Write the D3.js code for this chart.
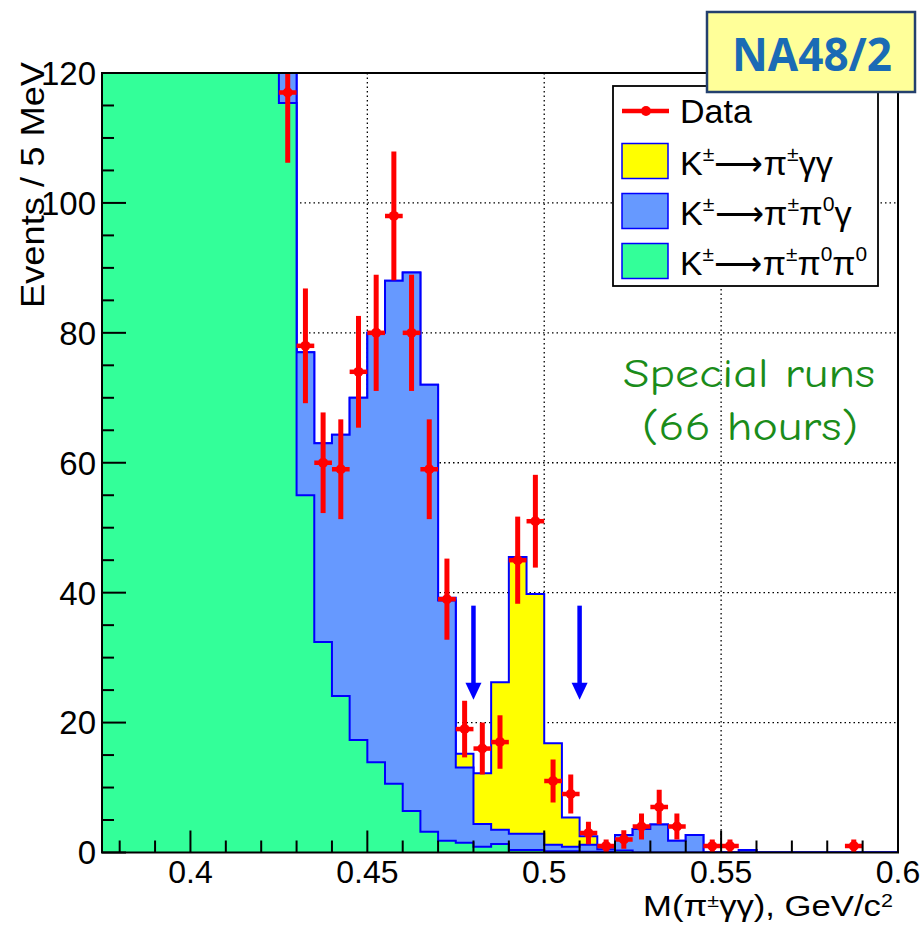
<!DOCTYPE html>
<html><head><meta charset="utf-8">
<script src="https://cdn.jsdelivr.net/npm/d3@7"></script>
<style>body{margin:0;background:#fff} svg{display:block}</style></head>
<body>
<svg id="c" width="921" height="925"></svg>
<script>
// ---- data ----
const binLow = [0.375,0.380,0.385,0.390,0.395,0.400,0.405,0.410,0.415,0.420,
  0.425,0.430,0.435,0.440,0.445,0.450,0.455,0.460,0.465,0.470,
  0.475,0.480,0.485,0.490,0.495,0.500,0.505,0.510,0.515,0.520,
  0.525,0.530,0.535,0.540,0.545,0.550,0.555,0.560,0.565,0.570,
  0.575,0.580,0.585,0.590,0.595];
const binWidth = 0.005;
// K -> pi pi0 pi0 (green)
const kpi0pi0 = [150,175,200,225,250,270,280,270,240,190,
  115.4,55,32.4,24.1,17.3,13.9,10.6,6.4,3.2,1.8,
  1.5,0.9,1.3,0.4,0.4,0.2,0.2,0.1,0.1,0.3,
  0,0,0,0,0,0,0,0,0,0,
  0,0,0,0,0];
// K -> pi pi0 gamma (blue)
const kpi0g = [2,2,3,3,4,5,6,7,9,11,
  12.6,22,30.6,40.2,52.7,66.1,77.4,82.9,68.8,37.0,
  11.6,3.5,2.2,2.5,2.5,1.0,0.7,1.1,0.4,2.4,
  3.6,4.3,1.8,2.7,0,0,0.4,0,0,0,
  0,0,0,0,0];
// K -> pi gamma gamma (yellow)
const kpigg = [0,0,0,0,0,0,0,0,0,0,
  0,0,0,0,0,0,0,0,0,0.4,
  2.1,7.8,22.7,42.6,36.9,15.6,4.5,1.3,0.5,0,
  0,0,0,0,0,0,0,0,0,0,
  0,0,0,0,0];
// Data (null = off scale)
const dataVals = [null,null,null,null,null,null,null,null,null,null,
  117,78,60,59,74,80,98,80,59,39,
  19,16,17,45,51,11,9,3,1,2,
  4,7,4,0,1,1,0,0,0,0,
  0,0,1,0,0];
const xTicks = [0.4,0.45,0.5,0.55,0.6];
const xTickLabels = ["0.4","0.45","0.5","0.55","0.6"];
const yTicks = [0,20,40,60,80,100,120];
const yTickLabels = ["0","20","40","60","80","100","120"];
const arrowX = [0.48,0.51];
const arrowY = [38,23.5];

// ---- setup ----
const svg = d3.select('#c');
const L=102,R=898,T=73,B=852.5;
const x = d3.scaleLinear().domain([0.375,0.6]).range([L,R]);
const y = d3.scaleLinear().domain([0,120]).range([B,T]);
const FONT = "'Liberation Sans', Arial, sans-serif";

svg.append('defs').append('clipPath').attr('id','pc')
  .append('rect').attr('x',L).attr('y',T).attr('width',R-L).attr('height',B-T);

const plot = svg.append('g').attr('clip-path','url(#pc)');

// grid
const grid = plot.append('g').attr('stroke','#000').attr('stroke-width',1.3).attr('stroke-dasharray','1.5,3');
[20,40,60,80,100].forEach(v=>grid.append('line').attr('x1',L).attr('x2',R).attr('y1',y(v)).attr('y2',y(v)));
[0.4,0.45,0.5,0.55].forEach(v=>grid.append('line').attr('y1',T).attr('y2',B).attr('x1',x(v)).attr('x2',x(v)));

// stacks
const n = binLow.length;
const cumG = kpi0pi0.slice();
const cumB = kpi0pi0.map((v,i)=>v+kpi0g[i]);
const cumT = cumB.map((v,i)=>v+kpigg[i]);
function pts(vals){
  const p = binLow.map((b,i)=>[b, vals[i]]);
  p.push([binLow[n-1]+binWidth, vals[n-1]]);
  return p;
}
const area = d3.area().x(d=>x(d[0])).y0(y(0)).y1(d=>y(d[1])).curve(d3.curveStepAfter);
const line = d3.line().x(d=>x(d[0])).y(d=>y(d[1])).curve(d3.curveStepAfter);
[[cumT,'#ffff00'],[cumB,'#6699ff'],[cumG,'#33ff99']].forEach(([vals,col])=>{
  const p = pts(vals);
  plot.append('path').attr('d',area(p)).attr('fill',col);
  plot.append('path').attr('d',line(p)).attr('fill','none').attr('stroke','#0000ff').attr('stroke-width',2);
});

// arrows
arrowX.forEach(ax=>{
  const g = plot.append('g');
  g.append('line').attr('x1',x(ax)).attr('x2',x(ax)).attr('y1',y(arrowY[0])).attr('y2',y(arrowY[1])-12)
    .attr('stroke','#0000ff').attr('stroke-width',4.5);
  const tx=x(ax), ty=y(arrowY[1]);
  g.append('path').attr('d',`M${tx-8},${ty-17}L${tx+8},${ty-17}L${tx},${ty}Z`).attr('fill','#0000ff');
});

// data points
const dg = plot.append('g');
binLow.forEach((b,i)=>{
  const v = dataVals[i];
  if(v===null || v<=0) return;
  const e = Math.sqrt(v);
  const cx = x(b+binWidth/2);
  dg.append('line').attr('x1',cx).attr('x2',cx).attr('y1',y(v-e)).attr('y2',y(v+e))
    .attr('stroke','#ff0000').attr('stroke-width',5);
  dg.append('line').attr('x1',x(b)).attr('x2',x(b+binWidth)).attr('y1',y(v)).attr('y2',y(v))
    .attr('stroke','#ff0000').attr('stroke-width',4.5);
  dg.append('circle').attr('cx',cx).attr('cy',y(v)).attr('r',5).attr('fill','#ff0000');
});

// frame
svg.append('rect').attr('x',L).attr('y',T).attr('width',R-L).attr('height',B-T)
  .attr('fill','none').attr('stroke','#000').attr('stroke-width',2);

// ticks
const ax = svg.append('g').attr('stroke','#000').attr('stroke-width',2);
for(let v=0; v<=120; v+=5){
  const major = (v%20===0);
  ax.append('line').attr('x1',L).attr('x2',L+(major?24:12)).attr('y1',y(v)).attr('y2',y(v));
}
for(let k=38; k<=60; k++){
  const v = k/100;
  const major = (k%5===0);
  ax.append('line').attr('x1',x(v)).attr('x2',x(v)).attr('y1',B).attr('y2',B-(major?22:12));
}
yTicks.forEach((v,i)=>svg.append('text').attr('x',96).attr('y',y(v)).attr('dy','0.36em')
  .attr('text-anchor','end').attr('font-family',FONT).attr('font-size',33).text(yTickLabels[i]));
xTicks.forEach((v,i)=>svg.append('text').attr('x',x(v)).attr('y',883)
  .attr('text-anchor','middle').attr('font-family',FONT).attr('font-size',32).text(xTickLabels[i]));

// axis titles
svg.append('text').attr('transform','translate(44,62) rotate(-90)').attr('text-anchor','end')
  .attr('font-family',FONT).attr('font-size',33).attr('textLength',246).attr('lengthAdjust','spacingAndGlyphs')
  .text('Events / 5 MeV');
function rich(sel, parts, sz, up){
  let cur = 0;
  const u = up || 0.4;
  parts.forEach(([t,sup])=>{
    const target = sup ? -sz*u : 0;
    sel.append('tspan').attr('dy', target-cur).attr('font-size', sup ? sz*0.62 : sz).text(t);
    cur = target;
  });
}
const xt = svg.append('text').attr('x',0).attr('y',0).attr('font-family',FONT);
rich(xt, [["M(π",0],["±",1],["γγ), GeV/c",0],["2",1]], 29, 0.3);
{
  const bw = xt.node().getBBox().width;
  const s = 250/bw;
  xt.attr('transform',`translate(${893-250},916) scale(${s},1)`);
}

// legend
const lg = svg.append('g');
lg.append('rect').attr('x',613).attr('y',86).attr('width',265).attr('height',200)
  .attr('fill','#fff').attr('stroke','#000').attr('stroke-width',1.8);
lg.append('line').attr('x1',622).attr('x2',669).attr('y1',111).attr('y2',111).attr('stroke','#ff0000').attr('stroke-width',4.5);
lg.append('circle').attr('cx',646).attr('cy',111).attr('r',5).attr('fill','#ff0000');
lg.append('text').attr('x',680).attr('y',123).attr('font-family',FONT).attr('font-size',34).text('Data');
const legItems = [
  ['#ffff00',[["K",0],["±",1],["⟶π",0],["±",1],["γγ",0]], 153],
  ['#6699ff',[["K",0],["±",1],["⟶π",0],["±",1],["π",0],["0",1],["γ",0]], 172],
  ['#33ff99',[["K",0],["±",1],["⟶π",0],["±",1],["π",0],["0",1],["π",0],["0",1]], 187]
];
legItems.forEach(([col,parts,w],i)=>{
  const cy = 161 + 50*i;
  lg.append('rect').attr('x',622).attr('y',cy-17.5).attr('width',46).attr('height',35)
    .attr('fill',col).attr('stroke','#0000ff').attr('stroke-width',1.5);
  const t = lg.append('text').attr('x',0).attr('y',0).attr('font-family',FONT);
  rich(t, parts, 34);
  const bw = t.node().getBBox().width;
  t.attr('transform',`translate(680,${cy+14}) scale(${w/bw},1)`);
});

// NA48/2 box
svg.append('rect').attr('x',707).attr('y',12).attr('width',208).attr('height',80)
  .attr('fill','#ffff99').attr('stroke','#24406e').attr('stroke-width',2.5);
svg.append('text').attr('x',812).attr('y',71).attr('text-anchor','middle')
  .attr('font-family',"'Open Sans', 'DejaVu Sans', sans-serif").attr('font-weight','bold')
  .attr('font-size',46).attr('fill','#1a6bb5').attr('textLength',160).attr('lengthAdjust','spacingAndGlyphs').text('NA48/2');

// special runs
const sp = svg.append('g').attr('font-family',"'Comic Sans MS','Comic Neue','DejaVu Sans',sans-serif")
  .attr('font-size',40).attr('fill','#1a8c1a').attr('text-anchor','middle');
sp.append('text').attr('x',749).attr('y',387).attr('textLength',252).attr('lengthAdjust','spacingAndGlyphs').text('Special runs');
sp.append('text').attr('x',750).attr('y',440).attr('textLength',216).attr('lengthAdjust','spacingAndGlyphs').text('(66 hours)');
</script>
</body></html>
